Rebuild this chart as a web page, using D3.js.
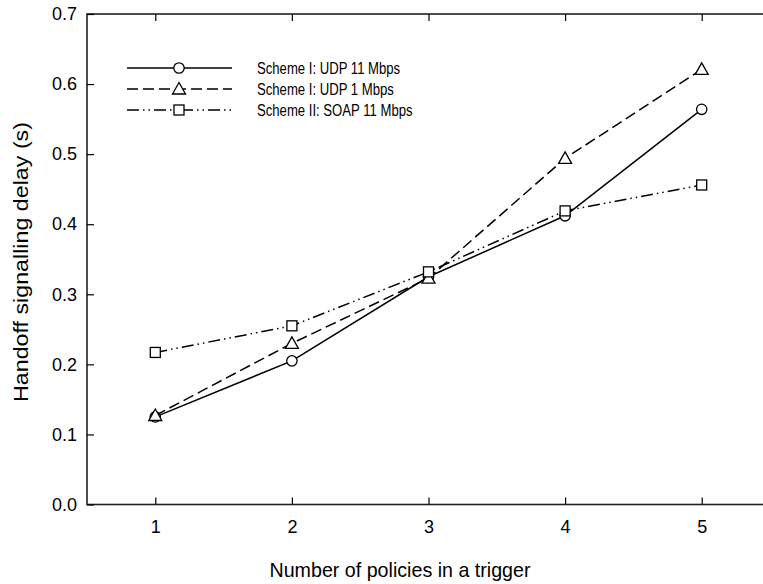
<!DOCTYPE html>
<html>
<head>
<meta charset="utf-8">
<script src="https://cdn.jsdelivr.net/npm/d3@7"></script>
<style>
body { margin: 0; background: #fff; }
text { font-family: "Liberation Sans", Arial, sans-serif; fill: #000; }
</style>
</head>
<body>
<div id="chart"></div>
<script>
const width = 763;
const height = 584;
const marginTop = 14;
const marginLeft = 87;
const plotRight = 770;
const plotBottom = 504.5;

const policies = [1, 2, 3, 4, 5];
const udp11 = [0.125, 0.205, 0.325, 0.412, 0.564];
const udp1 = [0.127, 0.230, 0.323, 0.494, 0.621];
const soap11 = [0.217, 0.255, 0.332, 0.419, 0.456];
const seriesNames = ["Scheme I: UDP 11 Mbps", "Scheme I: UDP 1 Mbps", "Scheme II: SOAP 11 Mbps"];
const yTicks = [0, 0.1, 0.2, 0.3, 0.4, 0.5, 0.6, 0.7];

const dashes = [null, "11,5", "12,4,1.5,4,1.5,4"];
const markers = ["circle", "triangle", "square"];

const svg = d3.select("#chart").append("svg")
    .attr("width", width)
    .attr("height", height);

const x = d3.scaleLinear().domain([0.5, 5.5]).range([marginLeft, plotRight]);
const y = d3.scaleLinear().domain([0, 0.7]).range([plotBottom, marginTop]);

// frame
svg.append("rect")
    .attr("x", marginLeft).attr("y", marginTop)
    .attr("width", plotRight - marginLeft).attr("height", plotBottom - marginTop)
    .attr("fill", "none").attr("stroke", "#222").attr("stroke-width", 1.6);

function styleAxis(g) {
    g.select(".domain").remove();
    g.selectAll(".tick line").attr("stroke", "#000").attr("stroke-width", 1.2);
    g.selectAll(".tick text").style("font-size", "18px").attr("fill", "#000");
}

svg.append("g")
    .attr("transform", `translate(0,${plotBottom})`)
    .call(d3.axisBottom(x).tickValues(policies).tickFormat(d3.format("d")).tickSizeInner(-7).tickPadding(16))
    .call(styleAxis);

svg.append("g")
    .attr("transform", `translate(0,${marginTop})`)
    .call(d3.axisTop(x).tickValues(policies).tickFormat("").tickSizeInner(-7))
    .call(styleAxis);

svg.append("g")
    .attr("transform", `translate(${marginLeft},0)`)
    .call(d3.axisLeft(y).tickValues(yTicks).tickFormat(d3.format(".1f")).tickSizeInner(-7).tickPadding(10))
    .call(styleAxis);

svg.append("g")
    .attr("transform", `translate(${plotRight},0)`)
    .call(d3.axisRight(y).tickValues(yTicks).tickFormat("").tickSizeInner(-7))
    .call(styleAxis);

// axis titles
svg.append("text")
    .attr("x", 400)
    .attr("y", 577)
    .attr("text-anchor", "middle")
    .attr("textLength", 261)
    .attr("lengthAdjust", "spacingAndGlyphs")
    .style("font-size", "21px")
    .text("Number of policies in a trigger");

svg.append("text")
    .attr("transform", `translate(28,262) rotate(-90)`)
    .attr("text-anchor", "middle")
    .attr("textLength", 280)
    .attr("lengthAdjust", "spacingAndGlyphs")
    .style("font-size", "21px")
    .text("Handoff signalling delay (s)");

function drawMarker(g, type, cx, cy) {
    if (type === "circle") {
        g.append("circle").attr("cx", cx).attr("cy", cy).attr("r", 5.2)
            .attr("fill", "#fff").attr("stroke", "#000").attr("stroke-width", 1.3);
    } else if (type === "triangle") {
        g.append("path")
            .attr("d", `M${cx},${cy - 6.5}L${cx + 6.5},${cy + 5}L${cx - 6.5},${cy + 5}Z`)
            .attr("fill", "#fff").attr("stroke", "#000").attr("stroke-width", 1.3);
    } else {
        g.append("rect").attr("x", cx - 5).attr("y", cy - 5).attr("width", 10).attr("height", 10)
            .attr("fill", "#fff").attr("stroke", "#000").attr("stroke-width", 1.3);
    }
}

const allSeries = [udp11, udp1, soap11];
const line = d3.line()
    .x((d, i) => x(policies[i]))
    .y(d => y(d));

allSeries.forEach((vals, k) => {
    svg.append("path")
        .datum(vals)
        .attr("fill", "none")
        .attr("stroke", "#000")
        .attr("stroke-width", 1.5)
        .attr("stroke-dasharray", dashes[k])
        .attr("d", line);
});

allSeries.forEach((vals, k) => {
    const g = svg.append("g");
    vals.forEach((v, i) => drawMarker(g, markers[k], x(policies[i]), y(v)));
});

// legend
const legend = svg.append("g");
seriesNames.forEach((name, k) => {
    const ly = 68 + k * 21;
    legend.append("line")
        .attr("x1", 127).attr("x2", 232).attr("y1", ly).attr("y2", ly)
        .attr("stroke", "#000").attr("stroke-width", 1.5)
        .attr("stroke-dasharray", dashes[k]);
    drawMarker(legend, markers[k], 179, ly);
    const t = legend.append("text")
        .attr("x", 257).attr("y", ly + 6)
        .style("font-size", "16px")
        .text(name);
    const w = t.node().getComputedTextLength();
    t.attr("textLength", w * 0.82).attr("lengthAdjust", "spacingAndGlyphs");
});
</script>
</body>
</html>
